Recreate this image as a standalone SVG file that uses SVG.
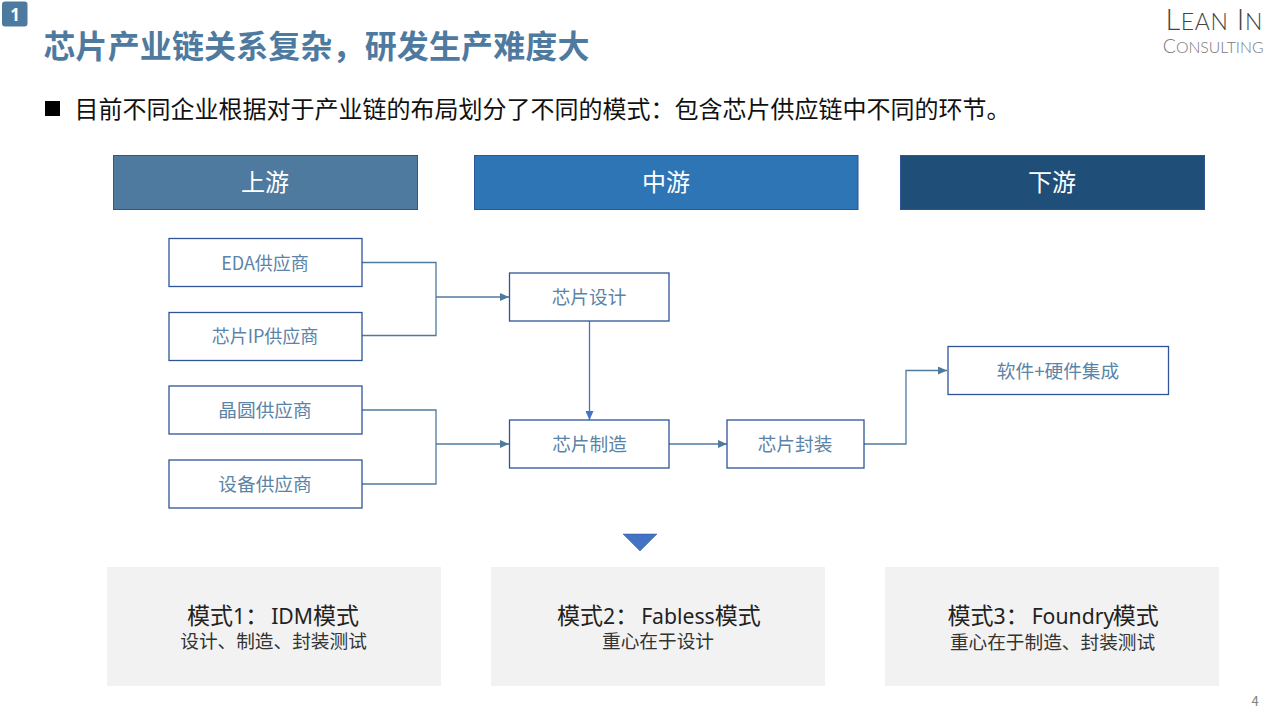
<svg xmlns="http://www.w3.org/2000/svg" width="1280" height="720" viewBox="0 0 1280 720">
<style>
text{font-family:"Noto Sans CJK SC","Noto Sans",sans-serif}
.box{fill:#fff;stroke:#2f5597;stroke-width:1.3}
.lbl{font-size:18.670px;fill:#5b84a8;text-anchor:middle}
.lbs{font-size:18px}
.hdr{stroke:#2f5597;stroke-width:1}
.hdrt{font-size:24px;fill:#fff;text-anchor:middle}
.mode{fill:#f2f2f2}
.m1{font-size:23px;fill:#222}
.m1 .l{font-family:"Noto Sans",sans-serif;font-size:21.200px}
.m2{font-size:18.670px;fill:#333;text-anchor:middle}
.c{fill:none;stroke:#4f7aa0;stroke-width:1.3}
.d{fill:none;stroke:#4472c4;stroke-width:1.3}
</style>
<defs>
<marker id="a" markerUnits="userSpaceOnUse" markerWidth="9" markerHeight="8" refX="9" refY="4" orient="auto"><path d="M0 0L9 4L0 8Z" fill="#4f7aa0"/></marker>
<marker id="b" markerUnits="userSpaceOnUse" markerWidth="9" markerHeight="8" refX="9" refY="4" orient="auto"><path d="M0 0L9 4L0 8Z" fill="#4472c4"/></marker>
</defs>
<rect width="1280" height="720" fill="#fff"/>
<g id="badge"><rect x="2" y="1.500" width="25.500" height="25" rx="3" fill="#4f7aa0"/><text x="15" y="20.500" font-size="17" font-weight="700" fill="#fff" text-anchor="middle" style="font-family:'Noto Sans',sans-serif">1</text></g>
<text id="title" x="43.500" y="58" font-size="32" letter-spacing="0.120" font-weight="700" fill="#4f7aa0">芯片产业链关系复杂，研发生产难度大</text>
<g id="logo">
<text x="1263" y="30" text-anchor="end" font-size="29" letter-spacing="0.600" style="font-family:Lato,sans-serif;font-weight:300;fill:#444">L<tspan font-size="23">EAN</tspan> I<tspan font-size="23">N</tspan></text>
<text x="1263.500" y="53" text-anchor="end" font-size="19.500" style="font-family:Lato,sans-serif;font-weight:300;fill:#777">C<tspan font-size="15.800">ONSULTING</tspan></text>
</g>
<rect id="bullet" x="45" y="101" width="15" height="15" fill="#000"/>
<text id="sub" x="74.500" y="118" font-size="24" fill="#111">目前不同企业根据对于产业链的布局划分了不同的模式：包含芯片供应链中不同的环节。</text>
<g id="hdr-up"><rect class="hdr" x="113.500" y="155.500" width="304" height="54" fill="#4f7aa0"/><text class="hdrt" x="265" y="191">上游</text></g>
<g id="hdr-mid"><rect class="hdr" x="474.500" y="155.500" width="383.500" height="54" fill="#2e75b6"/><text class="hdrt" x="666" y="191">中游</text></g>
<g id="hdr-down"><rect class="hdr" x="900.500" y="155.500" width="304" height="54" fill="#1f4e79"/><text class="hdrt" x="1052" y="191">下游</text></g>
<g id="connectors">
<path class="c" d="M362 262.500H436V335.500H362"/>
<path class="c" d="M436 297H509" marker-end="url(#a)"/>
<path class="c" d="M362 410H436V484H362"/>
<path class="c" d="M436 444H509" marker-end="url(#a)"/>
<path class="d" d="M589.500 321V420" marker-end="url(#b)"/>
<path class="c" d="M669 444H727" marker-end="url(#a)"/>
<path class="c" d="M864 444H906V370.500H947" marker-end="url(#a)"/>
</g>
<g id="n-eda"><rect class="box" x="169" y="238.500" width="193" height="48"/><text class="lbl lbs" x="265" y="270">EDA供应商</text></g>
<g id="n-ip"><rect class="box" x="169" y="312.500" width="193" height="48"/><text class="lbl lbs" x="265" y="343">芯片IP供应商</text></g>
<g id="n-wafer"><rect class="box" x="169" y="386" width="193" height="48"/><text class="lbl" x="265" y="417">晶圆供应商</text></g>
<g id="n-equip"><rect class="box" x="169" y="460" width="193" height="48"/><text class="lbl" x="265" y="491">设备供应商</text></g>
<g id="n-design"><rect class="box" x="509.500" y="273" width="159.500" height="48"/><text class="lbl" x="589" y="304">芯片设计</text></g>
<g id="n-fab"><rect class="box" x="509.500" y="420" width="159.500" height="48"/><text class="lbl" x="589.500" y="451">芯片制造</text></g>
<g id="n-pack"><rect class="box" x="727" y="420" width="137" height="48"/><text class="lbl" x="795" y="451">芯片封装</text></g>
<g id="n-sys"><rect class="box" x="948" y="346.500" width="220.500" height="48"/><text class="lbl" x="1058" y="378">软件+硬件集成</text></g>
<path id="tri" d="M623 534H657L640 551Z" fill="#4472c4" stroke="#2f5597" stroke-width="0.500"/>
<g id="mode1"><rect class="mode" x="107" y="567" width="334" height="119"/><text class="m1" x="187" y="624">模式<tspan class="l">1</tspan>：<tspan class="l" dx="3">IDM</tspan><tspan>模式</tspan></text><text class="m2" x="273.500" y="648">设计、制造、封装测试</text></g>
<g id="mode2"><rect class="mode" x="491" y="567" width="334" height="119"/><text class="m1" x="557" y="624">模式<tspan class="l">2</tspan>：<tspan class="l" dx="3">Fabless</tspan><tspan>模式</tspan></text><text class="m2" x="658" y="648">重心在于设计</text></g>
<g id="mode3"><rect class="mode" x="885" y="567" width="334" height="119"/><text class="m1" x="947.500" y="624">模式<tspan class="l">3</tspan>：<tspan class="l" dx="3">Foundry</tspan><tspan dx="-1.500">模式</tspan></text><text class="m2" x="1052.500" y="649">重心在于制造、封装测试</text></g>
<text id="page" x="1255" y="706" font-size="13" fill="#808080" text-anchor="middle">4</text>
</svg>
